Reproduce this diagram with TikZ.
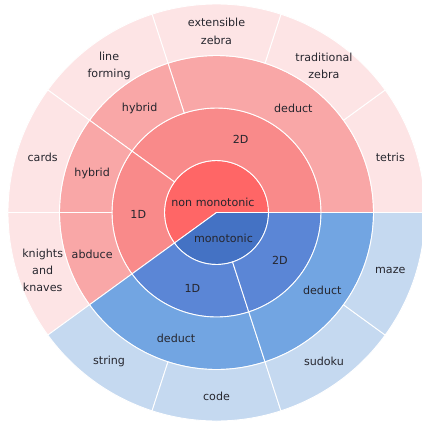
\documentclass[tikz,border=0pt]{standalone}
\usepackage{fontspec}
\setmainfont{DejaVu Sans}
\definecolor{redA}{HTML}{FF6666}
\definecolor{redB}{HTML}{F98A8A}
\definecolor{redC}{HTML}{F9A7A7}
\definecolor{redD}{HTML}{FDE4E5}
\definecolor{blueA}{HTML}{4472C4}
\definecolor{blueB}{HTML}{5B86D6}
\definecolor{blueC}{HTML}{72A5E2}
\definecolor{blueD}{HTML}{C5D9F0}
\definecolor{labelgray}{HTML}{26262E}
% annular sector: inner radius, outer radius, start angle, end angle, fill
\newcommand\sbsector[5]{%
  \filldraw[fill=#5, draw=white, line width=0.9pt]
    (#3:#1) arc[start angle=#3, end angle=#4, radius=#1]
    -- (#4:#2) arc[start angle=#4, end angle=#3, radius=#2] -- cycle;}
% central pie slice: radius, start angle, end angle, fill
\newcommand\sbcore[4]{%
  \filldraw[fill=#4, draw=white, line width=0.9pt]
    (0,0) -- (#2:#1) arc[start angle=#2, end angle=#3, radius=#1] -- cycle;}
\tikzset{
  lbl/.style={text=labelgray, font=\fontsize{11.1}{17.3}\selectfont, align=center,
    inner sep=0pt, yshift=-1.5pt}
}
\begin{document}
\begin{tikzpicture}[x=1pt, y=1pt]
\useasboundingbox (-216.5,-208.5) rectangle (205.5,212.5);
\clip (-216.5,-208.5) rectangle (205.5,212.5);
\fill[white] (-216.5,-208.5) rectangle (205.5,212.5);

% ring radii
\def\rA{52}\def\rB{104.5}\def\rC{157}\def\rD{208.5}

% centre
\sbcore{\rA}{0}{216}{redA}
\sbcore{\rA}{216}{360}{blueA}

% dimension level
\sbsector{\rA}{\rB}{0}{144}{redB}
\sbsector{\rA}{\rB}{144}{216}{redB}
\sbsector{\rA}{\rB}{216}{288}{blueB}
\sbsector{\rA}{\rB}{288}{360}{blueB}

% reasoning level
\sbsector{\rB}{\rC}{0}{108}{redC}
\sbsector{\rB}{\rC}{108}{144}{redC}
\sbsector{\rB}{\rC}{144}{180}{redC}
\sbsector{\rB}{\rC}{180}{216}{redC}
\sbsector{\rB}{\rC}{216}{288}{blueC}
\sbsector{\rB}{\rC}{288}{360}{blueC}

% task level
\sbsector{\rC}{\rD}{0}{36}{redD}
\sbsector{\rC}{\rD}{36}{72}{redD}
\sbsector{\rC}{\rD}{72}{108}{redD}
\sbsector{\rC}{\rD}{108}{144}{redD}
\sbsector{\rC}{\rD}{144}{180}{redD}
\sbsector{\rC}{\rD}{180}{216}{redD}
\sbsector{\rC}{\rD}{216}{252}{blueD}
\sbsector{\rC}{\rD}{252}{288}{blueD}
\sbsector{\rC}{\rD}{288}{324}{blueD}
\sbsector{\rC}{\rD}{324}{360}{blueD}

% labels
\node[lbl] (nonmono) at (-3.5,12) {non monotonic};
\node[lbl] (mono) at (7,-24) {monotonic};

\node[lbl] (nm2d) at (72:78.25) {2D};
\node[lbl] (nm1d) at (180:78.25) {1D};
\node[lbl] (m1d) at (252:78.25) {1D};
\node[lbl] (m2d) at (324:78.25) {2D};

\node[lbl] (nm2ddeduct) at (54:130.75) {deduct};
\node[lbl] (nm2dhybrid) at (126:130.75) {hybrid};
\node[lbl] (nm1dhybrid) at (162:130.75) {hybrid};
\node[lbl] (nm1dabduce) at (198:130.75) {abduce};
\node[lbl] (m1ddeduct) at (252:130.75) {deduct};
\node[lbl] (m2ddeduct) at (324:130.75) {deduct};

\node[lbl] (tetris) at (18:182.75) {tetris};
\node[lbl] (tradzebra) at (54:182.75) {traditional\\zebra};
\node[lbl] (extzebra) at (90:182.75) {extensible\\zebra};
\node[lbl] (lineform) at (126:182.75) {line\\forming};
\node[lbl] (cards) at (162:182.75) {cards};
\node[lbl] (knights) at (198:182.75) {knights\\and\\knaves};
\node[lbl] (string) at (234:182.75) {string};
\node[lbl] (code) at (270:182.75) {code};
\node[lbl] (sudoku) at (306:182.75) {sudoku};
\node[lbl] (maze) at (342:182.75) {maze};
\end{tikzpicture}
\end{document}
